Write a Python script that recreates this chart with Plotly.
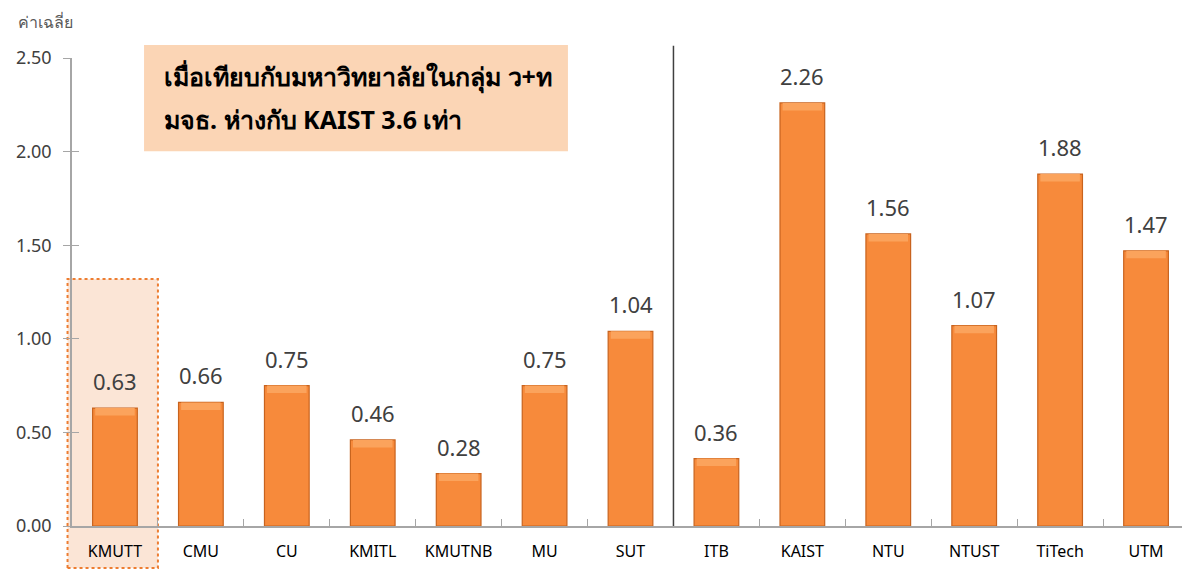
import plotly.graph_objects as go

# data
universities = ['KMUTT', 'CMU', 'CU', 'KMITL', 'KMUTNB', 'MU', 'SUT',
                'ITB', 'KAIST', 'NTU', 'NTUST', 'TiTech', 'UTM']
avg_values = [0.63, 0.66, 0.75, 0.46, 0.28, 0.75, 1.04,
              0.36, 2.26, 1.56, 1.07, 1.88, 1.47]
y_ticks = [0, 0.5, 1.0, 1.5, 2.0, 2.5]
y_title = 'ค่าเฉลี่ย'
note_lines = ['เมื่อเทียบกับมหาวิทยาลัยในกลุ่ม ว+ท', 'มจธ. ห่างกับ KAIST 3.6 เท่า']

FONT = 'Noto Sans, Tahoma, sans-serif'
AXIS_GREY = '#A6A6A6'
CAP = 0.04  # height of the lighter bevel band on top of each bar

fig = go.Figure()

fig.add_trace(go.Bar(
    x=universities,
    y=avg_values,
    width=0.52,
    marker=dict(color='#F78A3B', line=dict(color='#C8631E', width=1.2)),
    hoverinfo='x+y',
    showlegend=False,
))

# lighter bevel band at the top of each bar
fig.add_trace(go.Bar(
    x=universities,
    y=[CAP] * len(avg_values),
    base=[v - CAP for v in avg_values],
    width=0.46,
    marker=dict(color='#FBA35C', line=dict(width=0)),
    hoverinfo='skip',
    showlegend=False,
))

# value labels above the bars
for name, val in zip(universities, avg_values):
    fig.add_annotation(x=name, y=val, text=f'{val:.2f}', showarrow=False,
                       yanchor='bottom', yshift=10,
                       font=dict(size=22, color='#404040', family=FONT))

# invisible trace to draw the inside half of the y ticks
fig.add_trace(go.Scatter(x=universities, y=avg_values, yaxis='y2',
                         mode='markers', marker=dict(opacity=0),
                         hoverinfo='skip', showlegend=False))

# highlight box around KMUTT (behind bars)
fig.add_shape(type='rect', xref='paper', yref='paper',
              x0=-0.004, x1=1 / len(universities), y0=-0.09, y1=0.528,
              fillcolor='#FBE5D6', line=dict(color='#ED7D31', width=2, dash='dot'),
              layer='below')

# divider between Thai and foreign universities
fig.add_shape(type='line', xref='x', yref='paper',
              x0=6.5, x1=6.5, y0=0, y1=1.026,
              line=dict(color='#404040', width=1.5))

# note box
fig.add_shape(type='rect', xref='paper', yref='paper',
              x0=0.0645, x1=0.444, y0=0.801, y1=1.028,
              fillcolor='#FBD5B5', line=dict(width=0), layer='below')
fig.add_annotation(xref='paper', yref='paper', x=0.081, y=0.96,
                   text='<b>' + note_lines[0] + '</b>',
                   showarrow=False, xanchor='left', yanchor='middle',
                   font=dict(size=25, color='#000000', family=FONT))
fig.add_annotation(xref='paper', yref='paper', x=0.081, y=0.87,
                   text='<b>' + note_lines[1] + '</b>',
                   showarrow=False, xanchor='left', yanchor='middle',
                   font=dict(size=25, color='#000000', family=FONT))

# y axis title on top
fig.add_annotation(xref='paper', yref='paper', x=-0.05, y=1.105,
                   text=y_title, showarrow=False, xanchor='left',
                   font=dict(size=16, color='#595959', family=FONT))

# page body has an 8px margin, so the figure is sized/offset to fit the window
fig.update_layout(
    width=1182, height=562,
    margin=dict(l=64, r=1, t=50, b=44),
    plot_bgcolor='white', paper_bgcolor='white',
    barmode='overlay',
    xaxis=dict(range=[-0.5, len(universities) - 0.5],
               showline=True, linecolor=AXIS_GREY, linewidth=1.5,
               ticks='inside', tickson='boundaries', ticklen=7,
               tickcolor=AXIS_GREY, showgrid=False, automargin=False,
               tickfont=dict(size=16, color='#000000', family=FONT),
               ticklabelstandoff=10),
    yaxis=dict(range=[0, 2.5], tickvals=y_ticks,
               ticktext=[f'{t:.2f}' for t in y_ticks],
               showline=True, linecolor=AXIS_GREY, linewidth=1.5,
               ticks='outside', ticklen=7, tickcolor=AXIS_GREY,
               showgrid=False, zeroline=False, automargin=False,
               ticklabelstandoff=8,
               tickfont=dict(size=18, color='#404040', family=FONT)),
    yaxis2=dict(range=[0, 2.5], tickvals=y_ticks, overlaying='y',
                side='left', ticks='inside', ticklen=7, tickcolor=AXIS_GREY,
                showticklabels=False, showgrid=False, zeroline=False,
                showline=False, automargin=False),
)

fig.write_html('out.html')
